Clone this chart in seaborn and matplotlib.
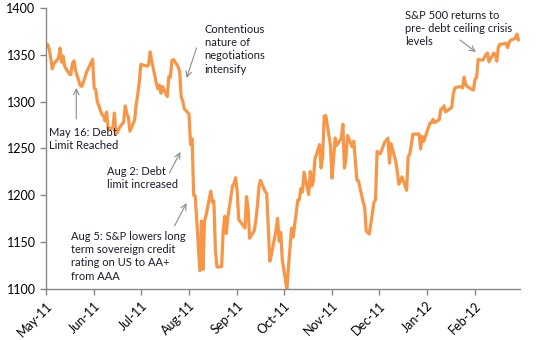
import pandas as pd
import numpy as np
import matplotlib
matplotlib.use("Agg")
import matplotlib.pyplot as plt
import matplotlib.dates as mdates
import seaborn as sns

# ---- data ----
holidays = ["2011-05-30", "2011-07-04", "2011-09-05", "2011-11-24", "2011-12-26",
            "2012-01-02", "2012-01-16", "2012-02-20"]
may = [1361.2, 1356.6, 1347.3, 1335.1, 1340.2, 1346.3, 1357.2, 1342.1, 1348.7, 1337.8,
       1329.5, 1329.0, 1340.7, 1343.6, 1333.3, 1317.4, 1316.3, 1320.5, 1325.7, 1331.1, 1345.2]
jun = [1314.6, 1312.9, 1300.2, 1286.2, 1284.9, 1279.6, 1289.0, 1271.0, 1271.8, 1287.9,
       1265.4, 1267.6, 1271.5, 1278.4, 1295.5, 1287.1, 1283.5, 1268.5, 1280.1, 1296.7,
       1307.4, 1320.6]
jul = [1339.7, 1337.9, 1339.2, 1353.2, 1343.8, 1319.5, 1313.6, 1317.7, 1308.9, 1316.1,
       1305.4, 1326.7, 1325.8, 1343.8, 1345.0, 1337.4, 1331.9, 1304.9, 1300.7, 1292.3]
aug = [1286.9, 1254.1, 1260.3, 1200.1, 1199.4, 1119.5, 1172.5, 1120.8, 1172.6, 1178.8,
       1204.5, 1192.8, 1193.9, 1140.7, 1123.5, 1123.8, 1162.4, 1177.6, 1159.3, 1176.8,
       1210.1, 1212.9, 1218.9]
sep = [1204.4, 1174.0, 1165.2, 1198.6, 1185.9, 1154.2, 1162.3, 1172.9, 1188.7, 1209.1,
       1216.0, 1204.1, 1202.1, 1166.8, 1129.6, 1136.4, 1163.0, 1175.4, 1151.1, 1160.4, 1131.4]
oct_ = [1099.2, 1124.0, 1144.0, 1165.0, 1155.5, 1194.9, 1195.5, 1207.3, 1203.7, 1224.6,
        1200.9, 1225.4, 1209.9, 1215.4, 1238.3, 1254.2, 1229.1, 1242.0, 1284.6, 1285.1, 1253.3]
nov = [1218.3, 1237.9, 1261.2, 1253.2, 1261.1, 1275.9, 1229.1, 1239.7, 1263.9, 1251.8,
       1257.8, 1236.9, 1216.1, 1215.7, 1193.0, 1188.0, 1161.8, 1158.7, 1192.6, 1195.2, 1247.0]
dec = [1244.6, 1244.3, 1257.1, 1258.5, 1261.0, 1234.4, 1255.2, 1236.5, 1225.7, 1211.8,
       1215.8, 1219.7, 1205.4, 1241.3, 1243.7, 1254.0, 1265.3, 1265.4, 1249.6, 1263.0, 1257.6]
jan = [1277.1, 1277.3, 1281.1, 1277.8, 1280.7, 1292.1, 1292.5, 1295.5, 1289.1, 1293.7,
       1308.0, 1314.5, 1315.4, 1316.0, 1314.7, 1326.1, 1318.4, 1316.3, 1313.0, 1312.4]
feb = [1324.1, 1325.5, 1344.9, 1344.3, 1347.1, 1350.0, 1352.0, 1342.6, 1351.8, 1350.5,
       1343.2, 1358.0, 1361.2, 1362.2, 1357.7, 1363.5, 1365.7, 1367.6, 1372.2, 1365.7]

closes = may + jun + jul + aug + sep + oct_ + nov + dec + jan + feb
dates = pd.bdate_range("2011-05-02", "2012-02-29", freq="C", holidays=holidays)
df = pd.DataFrame({"date": dates[:len(closes)], "close": closes})

y_ticks = [1100, 1150, 1200, 1250, 1300, 1350, 1400]

# ---- plot ----
sns.set_style("white")
plt.rcParams["font.family"] = ["Lato", "DejaVu Sans"]

fig = plt.figure(figsize=(5.43, 3.40), dpi=100)
ax = fig.add_axes([0.0847, 0.15, 0.873, 0.8265])

sns.lineplot(data=df, x="date", y="close", ax=ax, color="#F79646", linewidth=2.3)

ax.set_xlim(pd.Timestamp("2011-05-01"), pd.Timestamp("2012-02-29 23:00"))
ax.set_ylim(1100, 1400)
ax.set_yticks(y_ticks)
ax.xaxis.set_major_locator(mdates.MonthLocator())
ax.xaxis.set_major_formatter(mdates.DateFormatter("%b-%y"))
ax.set_xlabel("")
ax.set_ylabel("")

for s in ["top", "right"]:
    ax.spines[s].set_visible(False)
for s in ["left", "bottom"]:
    ax.spines[s].set_color("#868686")
    ax.spines[s].set_linewidth(1.0)
ax.tick_params(axis="both", which="major", length=4, width=1.0, color="#868686",
               direction="out", labelsize=9, labelcolor="#000000", left=True, bottom=True)
plt.setp(ax.get_xticklabels(), rotation=45, ha="right", rotation_mode="anchor")

txt_kw = dict(fontsize=8, color="#1a1a2e", va="top", ha="left", linespacing=1.25)
arr = dict(arrowstyle="->", color="#8c8c8c", lw=0.8, shrinkA=0, shrinkB=0)
T = pd.Timestamp

ax.text(T("2011-05-03"), 1273, "May 16: Debt\nLimit Reached", **txt_kw)
ax.annotate("", xy=(T("2011-05-20 12:00"), 1314.6), xytext=(T("2011-05-20 12:00"), 1281.5),
            arrowprops=arr)

ax.text(T("2011-08-11"), 1383, "Contentious\nnature of\nnegotiations\nintensify", **txt_kw)
ax.annotate("", xy=(T("2011-07-30 10:00"), 1325.3), xytext=(T("2011-08-05 20:00"), 1357.3),
            arrowprops=arr)

ax.text(T("2011-12-17 18:00"), 1398, "S&P 500 returns to\npre- debt ceiling crisis\nlevels", **txt_kw)
ax.annotate("", xy=(T("2012-02-01 14:00"), 1353.0), xytext=(T("2012-01-22 08:00"), 1365.8),
            arrowprops=arr)

ax.text(T("2011-06-09 12:00"), 1231.3, "Aug 2: Debt\nlimit increased", **txt_kw)
ax.annotate("", xy=(T("2011-07-26 12:00"), 1246.3), xytext=(T("2011-07-19 10:00"), 1223.9),
            arrowprops=arr)

ax.text(T("2011-05-17 08:00"), 1162, "Aug 5: S&P lowers long\nterm sovereign credit\nrating on US to AA+\nfrom AAA", **txt_kw)
ax.annotate("", xy=(T("2011-07-30 10:00"), 1191.8), xytext=(T("2011-07-22 16:00"), 1167.3),
            arrowprops=arr)

fig.savefig("out.png", dpi=100)
